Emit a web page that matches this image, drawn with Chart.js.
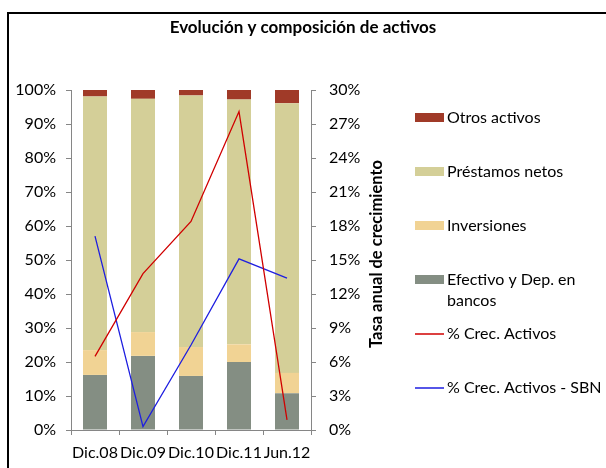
<!DOCTYPE html>
<html>
<head>
<meta charset="utf-8">
<script src="https://cdn.jsdelivr.net/npm/chart.js@4.4.1/dist/chart.umd.min.js"></script>
<style>
  html, body { margin: 0; padding: 0; background: #fff; }
</style>
</head>
<body>
<canvas id="myChart" width="606" height="468"></canvas>
<script>
// data
const categories = ["Dic.08", "Dic.09", "Dic.10", "Dic.11", "Jun.12"];
const efectivo = [16.2, 21.8, 15.9, 20.0, 10.8];
const inversiones = [7.3, 7.0, 8.5, 5.2, 6.0];
const prestamos = [74.6, 68.6, 74.0, 72.0, 79.3];
const otros = [1.9, 2.6, 1.6, 2.8, 3.9];
const crecActivos = [6.5, 13.8, 18.4, 28.1, 0.9];
const crecActivosSBN = [17.1, 0.3, 7.5, 15.1, 13.4];

const chartTitle = "Evolución y composición de activos";
const rightAxisTitle = "Tasa anual de crecimiento";
const legendOrder = [3, 2, 1, 0, 4, 5];

const FONT = "Lato";
Chart.defaults.font.family = FONT;
Chart.defaults.color = "#000";

// frame, title, right axis title and legend
const decorPlugin = {
  id: "decor",
  afterDraw(chart) {
    const ctx = chart.ctx;
    ctx.save();
    ctx.strokeStyle = "#000";
    ctx.lineWidth = 2;
    ctx.strokeRect(8, 13, 604, 470);

    ctx.fillStyle = "#000";
    ctx.textAlign = "center";
    ctx.textBaseline = "middle";
    ctx.font = "bold 17px " + FONT;
    ctx.fillText(chartTitle, 303, 28);

    ctx.save();
    ctx.translate(377, 254);
    ctx.rotate(-Math.PI / 2);
    ctx.font = "bold 16.5px " + FONT;
    ctx.fillText(rightAxisTitle, 0, 0);
    ctx.restore();

    // legend
    ctx.font = "16px " + FONT;
    ctx.textAlign = "left";
    let y = 118;
    legendOrder.forEach((idx) => {
      const ds = chart.data.datasets[idx];
      if (ds.type === "line") {
        ctx.strokeStyle = ds.borderColor;
        ctx.lineWidth = 1.5;
        ctx.beginPath();
        ctx.moveTo(415, y);
        ctx.lineTo(444, y);
        ctx.stroke();
      } else {
        ctx.fillStyle = ds.backgroundColor;
        ctx.fillRect(415, y - 5, 29, 9);
      }
      // wrap label
      const words = ds.label.split(" ");
      const lines = [];
      let cur = "";
      words.forEach((w) => {
        const test = cur ? cur + " " + w : w;
        if (ctx.measureText(test).width > 155 && cur) {
          lines.push(cur);
          cur = w;
        } else {
          cur = test;
        }
      });
      lines.push(cur);
      ctx.fillStyle = "#000";
      lines.forEach((l, k) => ctx.fillText(l, 447, y + k * 21));
      y += 54;
    });
    ctx.restore();
  },
};

const ctx = document.getElementById("myChart");

new Chart(ctx, {
  data: {
    labels: categories,
    datasets: [
      { type: "bar", label: "Efectivo y Dep. en bancos", data: efectivo, backgroundColor: "#848E83", yAxisID: "y", order: 1 },
      { type: "bar", label: "Inversiones", data: inversiones, backgroundColor: "#F1D394", yAxisID: "y", order: 1 },
      { type: "bar", label: "Préstamos netos", data: prestamos, backgroundColor: "#D4CF98", yAxisID: "y", order: 1 },
      { type: "bar", label: "Otros activos", data: otros, backgroundColor: "#A03A28", yAxisID: "y", order: 1 },
      { type: "line", label: "% Crec. Activos", data: crecActivos, borderColor: "#D00000", borderWidth: 1.3, pointRadius: 0, tension: 0, yAxisID: "y1", order: 0 },
      { type: "line", label: "% Crec. Activos - SBN", data: crecActivosSBN, borderColor: "#1E1EE0", borderWidth: 1.3, pointRadius: 0, tension: 0, yAxisID: "y1", order: 0 },
    ],
  },
  options: {
    responsive: false,
    animation: false,
    layout: { padding: { left: 0, top: 90, right: 235, bottom: 0 } },
    datasets: { bar: { categoryPercentage: 1, barPercentage: 0.5 } },
    plugins: {
      legend: { display: false },
      title: { display: false },
      tooltip: { enabled: false },
    },
    scales: {
      x: {
        stacked: true,
        grid: { drawOnChartArea: false, tickLength: 5, color: "#868686", offset: true },
        border: { color: "#868686" },
        ticks: { font: { size: 16 }, padding: 8, autoSkip: false, maxRotation: 0 },
        afterFit(scale) { scale.height = 38; },
      },
      y: {
        stacked: true,
        position: "left",
        min: 0,
        max: 100,
        grid: { drawOnChartArea: false, tickLength: 5, color: "#868686" },
        border: { color: "#868686" },
        ticks: { stepSize: 10, padding: 10, font: { size: 16 }, callback: (v) => v + "%" },
        afterFit(scale) { scale.width = 71; },
      },
      y1: {
        position: "right",
        min: 0,
        max: 30,
        grid: { drawOnChartArea: false, tickLength: 5, color: "#868686" },
        border: { color: "#868686" },
        ticks: { stepSize: 3, padding: 13, font: { size: 16 }, callback: (v) => v + "%" },
        afterFit(scale) { scale.width = 60; },
      },
    },
  },
  plugins: [decorPlugin],
});
</script>
</body>
</html>
